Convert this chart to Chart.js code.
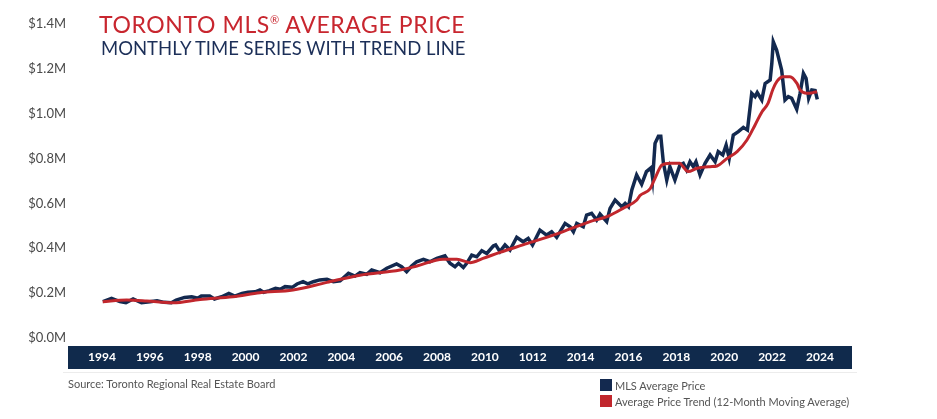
<!DOCTYPE html>
<html>
<head>
<meta charset="utf-8">
<script src="https://cdn.jsdelivr.net/npm/chart.js@4.4.0/dist/chart.umd.min.js"></script>
<style>
  html, body { margin: 0; padding: 0; background: #fff; }
  #wrap { position: relative; width: 937px; height: 419px; font-family: Lato, 'Noto Sans', sans-serif; overflow: hidden; }
  #trendChart { position: absolute; left: 0; top: 0; }
  .title { position: absolute; left: 99px; top: 13px; font-size: 23px; line-height: 23px; color: #c8262f; letter-spacing: 0.6px; white-space: nowrap; }
  .title sup { font-size: 11px; vertical-align: 9px; line-height: 0; }
  .subtitle { position: absolute; left: 101px; top: 39px; font-size: 18.5px; line-height: 19px; color: #1c2f58; letter-spacing: 0; white-space: nowrap; }
  .source { position: absolute; left: 68px; top: 377px; font-size: 11px; line-height: 14px; color: #555; }
  .legend { position: absolute; left: 600px; top: 377px; font-size: 11px; color: #555; }
  .legend div { display: flex; align-items: center; height: 16px; }
  .legend span.box { width: 12px; height: 12px; margin-right: 3px; display: inline-block; }
</style>
</head>
<body>
<div id="wrap">
  <canvas id="trendChart" width="937" height="419"></canvas>
  <div class="title">TORONTO MLS<sup>®</sup> AVERAGE PRICE</div>
  <div class="subtitle">MONTHLY TIME SERIES WITH TREND LINE</div>
  <div class="source">Source: Toronto Regional Real Estate Board</div>
  <div class="legend" id="legend"></div>
</div>
<script>
// values in millions of dollars, x as decimal year
const tickYears = [1994, 1996, 1998, 2000, 2002, 2004, 2006, 2008, 2010, 2012, 2014, 2016, 2018, 2020, 2022, 2024];
const tickLabels = ['1994', '1996', '1998', '2000', '2002', '2004', '2006', '2008', '2010', '1012', '2014', '2016', '2018', '2020', '2022', '2024'];

const priceYears = [
  1994.04, 1994.40, 1994.75, 1995.00, 1995.30, 1995.65, 1996.00, 1996.30, 1996.60, 1996.90,
  1997.10, 1997.45, 1997.75, 1998.00, 1998.15, 1998.50, 1998.70, 1999.00, 1999.30, 1999.55,
  1999.85, 2000.10, 2000.40, 2000.60, 2000.75, 2001.00, 2001.25, 2001.45, 2001.65, 2001.95,
  2002.15, 2002.40, 2002.60, 2002.83, 2003.10, 2003.40, 2003.67, 2003.95, 2004.30, 2004.57,
  2004.78, 2005.06, 2005.27, 2005.62, 2005.90, 2006.31, 2006.52, 2006.73, 2006.94, 2007.15,
  2007.43, 2007.70, 2007.99, 2008.33, 2008.54, 2008.75, 2008.90, 2009.10, 2009.24, 2009.45,
  2009.66, 2009.87, 2010.08, 2010.35, 2010.45, 2010.63, 2010.84, 2011.05, 2011.33, 2011.60,
  2011.81, 2011.99, 2012.30, 2012.58, 2012.79, 2013.00, 2013.35, 2013.56, 2013.70, 2013.84,
  2014.11, 2014.25, 2014.46, 2014.67, 2014.81, 2015.09, 2015.23, 2015.44, 2015.72, 2015.86,
  2016.00, 2016.14, 2016.34, 2016.55, 2016.75, 2016.95, 2017.01, 2017.11, 2017.25, 2017.35,
  2017.46, 2017.60, 2017.73, 2017.94, 2018.15, 2018.29, 2018.43, 2018.57, 2018.71, 2018.82,
  2018.99, 2019.20, 2019.41, 2019.62, 2019.75, 2019.94, 2020.08, 2020.21, 2020.38, 2020.59,
  2020.80, 2020.97, 2021.15, 2021.29, 2021.38, 2021.57, 2021.71, 2021.92, 2021.99, 2022.05,
  2022.19, 2022.40, 2022.54, 2022.68, 2022.82, 2023.03, 2023.17, 2023.31, 2023.42, 2023.53,
  2023.66, 2023.80, 2023.89
];
const priceValues = [
  0.162, 0.177, 0.162, 0.157, 0.174, 0.157, 0.162, 0.166, 0.159, 0.157,
  0.169, 0.181, 0.184, 0.177, 0.187, 0.187, 0.174, 0.184, 0.199, 0.187,
  0.199, 0.204, 0.206, 0.214, 0.204, 0.211, 0.221, 0.217, 0.229, 0.226,
  0.241, 0.251, 0.241, 0.251, 0.259, 0.262, 0.251, 0.255, 0.288, 0.276,
  0.291, 0.284, 0.303, 0.291, 0.311, 0.330, 0.318, 0.296, 0.321, 0.340,
  0.351, 0.340, 0.355, 0.366, 0.333, 0.318, 0.333, 0.314, 0.333, 0.370,
  0.362, 0.389, 0.377, 0.410, 0.415, 0.385, 0.415, 0.392, 0.449, 0.429,
  0.444, 0.415, 0.481, 0.459, 0.474, 0.449, 0.511, 0.496, 0.474, 0.511,
  0.496, 0.548, 0.556, 0.526, 0.553, 0.519, 0.578, 0.615, 0.585, 0.600,
  0.585, 0.660, 0.727, 0.685, 0.742, 0.760, 0.712, 0.868, 0.900, 0.900,
  0.780, 0.704, 0.764, 0.704, 0.771, 0.779, 0.749, 0.786, 0.764, 0.786,
  0.727, 0.779, 0.816, 0.786, 0.831, 0.816, 0.860, 0.801, 0.905, 0.920,
  0.939, 0.927, 1.091, 1.076, 1.094, 1.061, 1.135, 1.150, 1.225, 1.321,
  1.284, 1.195, 1.061, 1.076, 1.069, 1.020, 1.091, 1.180, 1.158, 1.069,
  1.106, 1.103, 1.064
];

const trendYears = [
  1994.03, 1995.03, 1995.87, 1996.97, 1998.10, 1999.47, 2000.60, 2001.98, 2003.40, 2004.78,
  2006.45, 2007.16, 2008.25, 2008.83, 2009.38, 2009.92, 2010.63, 2011.59, 2013.01, 2014.39,
  2015.10, 2015.77, 2016.35, 2016.48, 2016.90, 2017.10, 2017.40, 2017.74, 2018.15, 2018.28,
  2018.49, 2018.87, 2019.41, 2019.70, 2020.12, 2020.54, 2020.95, 2021.29, 2021.58, 2021.83,
  2022.04, 2022.21, 2022.46, 2022.75, 2023.04, 2023.17, 2023.46, 2023.71, 2023.88
];
const trendValues = [
  0.162, 0.169, 0.165, 0.157, 0.172, 0.184, 0.202, 0.214, 0.248, 0.280,
  0.303, 0.321, 0.351, 0.351, 0.336, 0.355, 0.382, 0.415, 0.464, 0.519,
  0.541, 0.578, 0.615, 0.635, 0.665, 0.710, 0.771, 0.779, 0.779, 0.764,
  0.742, 0.757, 0.764, 0.767, 0.801, 0.831, 0.883, 0.950, 1.009, 1.046,
  1.110, 1.145, 1.165, 1.165, 1.135, 1.106, 1.091, 1.094, 1.098
];

const NAVY = '#13294f';
const RED = '#c1272d';

const bandPlugin = {
  id: 'yearBand',
  beforeDraw(chart) {
    const { ctx, chartArea } = chart;
    ctx.save();
    ctx.fillStyle = '#102a4c';
    ctx.fillRect(chartArea.left, chartArea.bottom + 8, chartArea.right - chartArea.left, 23);
    ctx.fillStyle = '#ececec';
    ctx.fillRect(chartArea.left - 5, chartArea.bottom + 34, chartArea.right - chartArea.left + 10, 1);
    ctx.restore();
  },
};

const datasets = [
  {
    label: 'MLS Average Price',
    data: priceYears.map((x, i) => ({ x, y: priceValues[i] })),
    borderColor: NAVY,
    backgroundColor: NAVY,
    borderWidth: 3.5,
    tension: 0,
    pointRadius: 0,
    order: 2,
  },
  {
    label: 'Average Price Trend (12-Month Moving Average)',
    data: trendYears.map((x, i) => ({ x, y: trendValues[i] })),
    borderColor: RED,
    backgroundColor: RED,
    borderWidth: 3,
    cubicInterpolationMode: 'monotone',
    pointRadius: 0,
    order: 1,
  },
];

new Chart(document.querySelector('#trendChart'), {
  type: 'line',
  data: { datasets },
  plugins: [bandPlugin],
  options: {
    responsive: false,
    devicePixelRatio: 1,
    animation: false,
    layout: { padding: { left: 0, right: 85, top: 24, bottom: 50 } },
    plugins: { legend: { display: false }, tooltip: { enabled: false } },
    scales: {
      x: {
        type: 'linear',
        min: 1992.58,
        max: 2025.34,
        afterBuildTicks: (scale) => {
          scale.ticks = tickYears.map((value) => ({ value }));
        },
        afterFit: (scale) => { scale.height = 31; },
        grid: { display: false, drawTicks: false },
        border: { display: false },
        ticks: {
          autoSkip: false,
          maxRotation: 0,
          padding: 12,
          color: '#ffffff',
          font: { family: 'Lato, "Noto Sans", sans-serif', size: 12, weight: 'bold' },
          callback: (value, index) => tickLabels[index],
        },
      },
      y: {
        min: 0,
        max: 1.4,
        afterFit: (scale) => { scale.width = 68; },
        grid: { display: false, drawTicks: false },
        border: { display: false },
        ticks: {
          stepSize: 0.2,
          padding: 2,
          color: '#4a4a4a',
          font: { family: 'Lato, "Noto Sans", sans-serif', size: 13 },
          callback: (value) => '$' + Number(value).toFixed(1) + 'M',
        },
      },
    },
  },
});

document.querySelector('#legend').innerHTML = datasets
  .map((d) => `<div><span class="box" style="background:${d.borderColor}"></span>${d.label}</div>`)
  .join('');
</script>
</body>
</html>
